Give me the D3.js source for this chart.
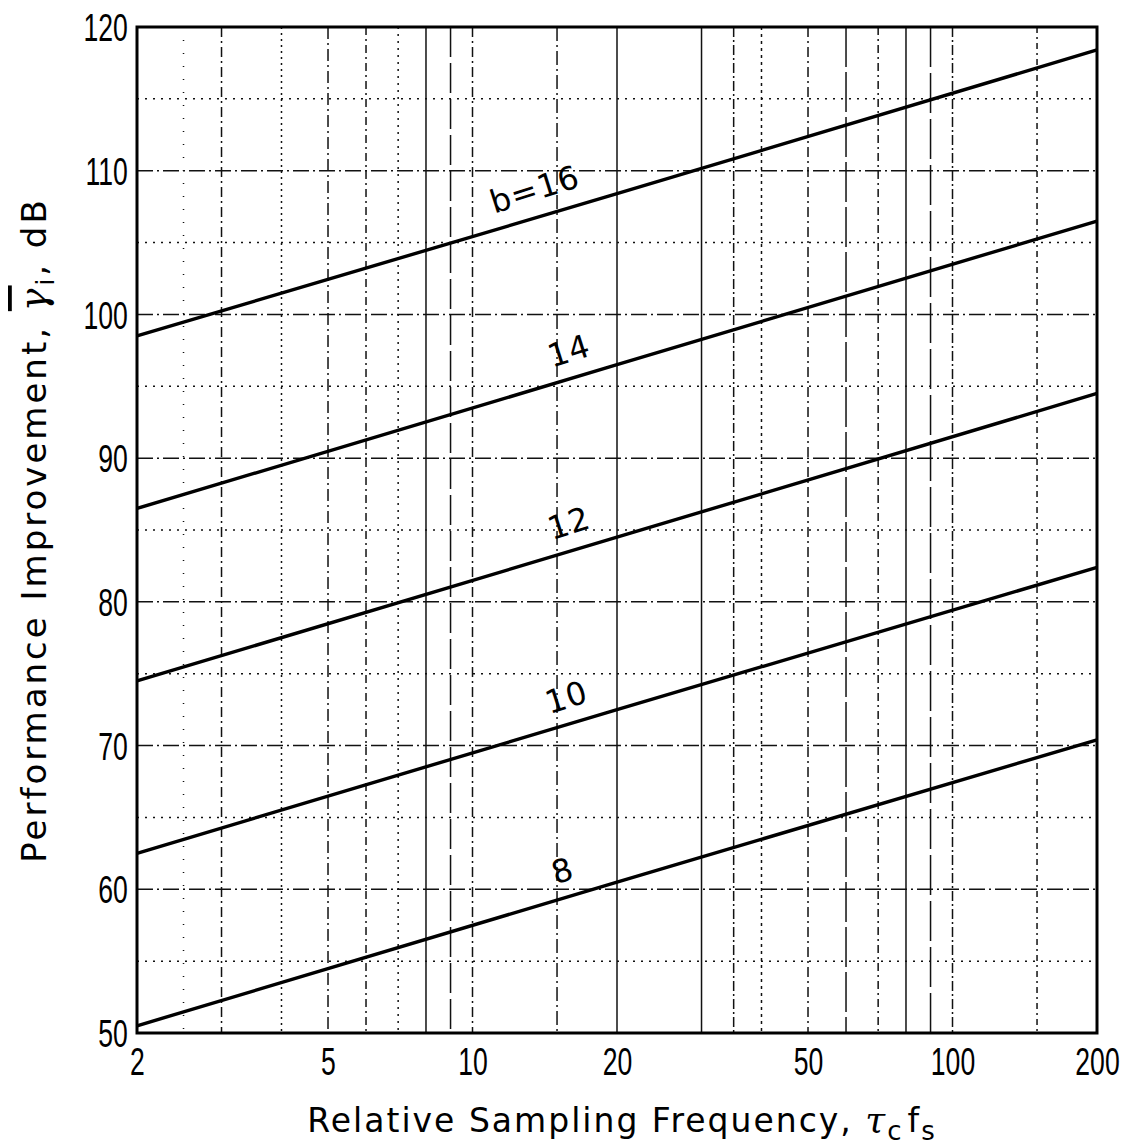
<!DOCTYPE html>
<html>
<head>
<meta charset="utf-8">
<script src="https://cdn.jsdelivr.net/npm/d3@7"></script>
<style>
    body { margin: 0; background: #fff; }
    svg { display: block; }
</style>
</head>
<body>
<div id="chart"></div>
<script>
// curve data: performance improvement (dB) vs relative sampling frequency
const freqs = [2, 20, 200];
const bits = [8, 10, 12, 14, 16];
const gain8 = [50.5, 60.5, 70.4];
const gain10 = [62.5, 72.5, 82.4];
const gain12 = [74.5, 84.5, 94.5];
const gain14 = [86.5, 96.5, 106.5];
const gain16 = [98.5, 108.4, 118.4];
const curveLabels = ["8", "10", "12", "14", "b=16"];
const labelFreq = [16, 16.3, 16.5, 16.5, 14];

const xTicks = [2, 5, 10, 20, 50, 100, 200];
const yTicks = [50, 60, 70, 80, 90, 100, 110, 120];
const xGrid = [2.5, 3, 4, 5, 6, 7, 8, 9, 10, 15, 20, 30, 35, 40, 50, 60, 70, 80, 90, 100, 150];
const yGrid = [55, 60, 65, 70, 75, 80, 85, 90, 95, 100, 105, 110, 115];

const series = [gain8, gain10, gain12, gain14, gain16];

// dash style of each vertical grid line (scanned graph paper look)
const vDash = {
    2.5: "1 12", 3: "10 4 2 4", 4: "2 4", 5: "12 4 2 4", 6: "8 4 2 4", 7: "2 5",
    8: null, 9: "30 6", 10: "10 4 2 4", 15: "14 4 2 4", 20: null, 30: null,
    35: "10 3 2 3", 40: "3 4", 50: "10 4 2 4", 60: "40 5", 70: "8 4 2 4",
    80: null, 90: "40 6", 100: "10 3 2 3", 150: "6 4 2 4"
};

const margin = {top: 27, right: 27, bottom: 115, left: 137};
const totalW = 1124, totalH = 1148;
const width = totalW - margin.left - margin.right;
const height = totalH - margin.top - margin.bottom;

const svg = d3.select("#chart").append("svg")
    .attr("width", totalW)
    .attr("height", totalH);

const g = svg.append("g")
    .attr("transform", `translate(${margin.left},${margin.top})`);

const x = d3.scaleLog().domain([2, 200]).range([0, width]);
const y = d3.scaleLinear().domain([50, 120]).range([height, 0]);

// grid
g.append("g").attr("class", "vgrid")
    .selectAll("line")
    .data(xGrid)
    .join("line")
    .attr("x1", d => x(d)).attr("x2", d => x(d))
    .attr("y1", 0).attr("y2", height)
    .attr("stroke", "#111")
    .attr("stroke-width", 1.5)
    .attr("stroke-dasharray", d => vDash[d] || null);

g.append("g").attr("class", "hgrid")
    .selectAll("line")
    .data(yGrid)
    .join("line")
    .attr("x1", 0).attr("x2", width)
    .attr("y1", d => y(d)).attr("y2", d => y(d))
    .attr("stroke", "#111")
    .attr("stroke-width", 1.5)
    .attr("stroke-dasharray", d => d % 10 === 0 ? "16 4 2 4" : "2 6");

// curves
const line = d3.line()
    .x((d, i) => x(freqs[i]))
    .y(d => y(d));

g.append("g").attr("class", "curves")
    .selectAll("path")
    .data(series)
    .join("path")
    .attr("d", d => line(d))
    .attr("fill", "none")
    .attr("stroke", "#000")
    .attr("stroke-width", 3.4);

// curve labels, rotated along the lines
const angle = Math.atan2(y(gain8[0]) - y(gain8[2]), x(freqs[2]) - x(freqs[0])) * 180 / Math.PI;
const interp = (s, f) => {
    const t = (Math.log10(f) - Math.log10(freqs[0])) / (Math.log10(freqs[2]) - Math.log10(freqs[0]));
    return s[0] + t * (s[2] - s[0]);
};
const rad = angle * Math.PI / 180;
g.append("g").attr("class", "curve-labels")
    .selectAll("text")
    .data(series)
    .join("text")
    .attr("transform", (d, i) => {
        const px = x(labelFreq[i]) - 16 * Math.sin(rad);
        const py = y(interp(d, labelFreq[i])) - 16 * Math.cos(rad);
        return `translate(${px},${py}) rotate(${-angle - 1})`;
    })
    .attr("text-anchor", "middle")
    .attr("font-family", "DejaVu Sans, sans-serif")
    .attr("font-size", 32)
    .attr("letter-spacing", 1)
    .attr("fill", "#000")
    .text((d, i) => curveLabels[i]);

// axes
const xAxis = d3.axisBottom(x)
    .tickValues(xTicks)
    .tickFormat(d3.format("d"))
    .tickSize(0)
    .tickPadding(0);

const yAxis = d3.axisLeft(y)
    .tickValues(yTicks)
    .tickSize(0)
    .tickPadding(0);

const gx = g.append("g")
    .attr("class", "x-axis axis")
    .attr("transform", `translate(0,${height})`)
    .call(xAxis);
gx.select(".domain").remove();
gx.selectAll("text")
    .attr("y", 42)
    .attr("dy", null)
    .attr("transform", "scale(0.7,1)")
    .attr("font-family", "Liberation Sans, Arial, sans-serif")
    .attr("font-size", 38)
    .attr("fill", "#000");

const gy = g.append("g")
    .attr("class", "y-axis axis")
    .call(yAxis);
gy.select(".domain").remove();
gy.selectAll("text")
    .attr("x", -13)
    .attr("dy", "0.36em")
    .attr("transform", "scale(0.7,1)")
    .attr("font-family", "Liberation Sans, Arial, sans-serif")
    .attr("font-size", 38)
    .attr("fill", "#000");

// frame
g.append("rect")
    .attr("x", 0).attr("y", 0)
    .attr("width", width).attr("height", height)
    .attr("fill", "none")
    .attr("stroke", "#000")
    .attr("stroke-width", 3);

// axis titles
const xTitle = svg.append("text")
    .attr("x", margin.left + width / 2 + 5)
    .attr("y", 1132)
    .attr("text-anchor", "middle")
    .attr("font-family", "DejaVu Sans, sans-serif")
    .attr("font-size", 33)
    .attr("letter-spacing", 2)
    .attr("fill", "#000");
xTitle.append("tspan").text("Relative Sampling Frequency,  ");
xTitle.append("tspan").attr("font-style", "italic").attr("font-family", "DejaVu Serif, serif").attr("font-size", 36).text("τ");
xTitle.append("tspan").attr("font-size", 26).attr("dy", 8).text("c");
xTitle.append("tspan").attr("dy", -8).attr("dx", 4).text("f");
xTitle.append("tspan").attr("font-size", 26).attr("dy", 8).text("s");

const yTitle = svg.append("text")
    .attr("transform", `translate(46,${margin.top + height / 2}) rotate(-90)`)
    .attr("text-anchor", "middle")
    .attr("font-family", "DejaVu Sans, sans-serif")
    .attr("font-size", 34)
    .attr("letter-spacing", 3)
    .attr("fill", "#000");
yTitle.append("tspan").text("Performance  Improvement,  ");
yTitle.append("tspan").attr("font-style", "italic").attr("font-family", "DejaVu Serif, serif")
    .attr("font-size", 38)
    .style("text-decoration", "overline").text("γ");
yTitle.append("tspan").attr("font-size", 24).attr("dy", 8).text("i");
yTitle.append("tspan").attr("dy", -8).text(",  dB");
</script>
</body>
</html>
